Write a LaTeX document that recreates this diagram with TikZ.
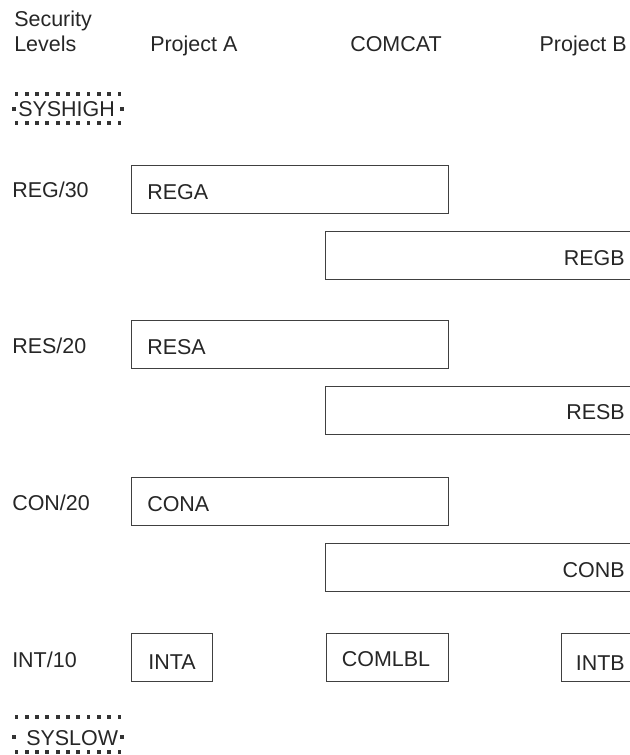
\documentclass[tikz,border=0pt]{standalone}
\usepackage{fontspec}
\setmainfont{Liberation Sans}

\begin{document}
\begin{tikzpicture}[x=0.75pt,y=0.75pt,yscale=-1,xscale=1,
	every node/.style={font=\fontsize{16.1}{19}\selectfont, text=black!85, inner sep=0pt},
	lvlbox/.style={draw=black!75, line width=0.75pt, minimum height=36pt, anchor=north west},
	dotsq/.style={fill=black!80}]
		\useasboundingbox (0,0) rectangle (630,755);
		\clip (0,0) rectangle (630,755);
		
		%column heads
		\node [anchor=base west] (sec) at (14,27) {Security};
		\node [anchor=base west] (lev) at (14,52) {Levels};
		\node [anchor=base west] (prja) at (150,52) {Project A};
		\node [anchor=base west] (comcat) at (350,52) {COMCAT};
		\node [anchor=base east] (prjb) at (627,52) {Project B};
		
		%syshigh, dotted frame
		\node [anchor=base west] (syshigh) at (18,117) {SYSHIGH};
		\foreach \i in {0,...,10} {
			\fill [dotsq] ({14.5+10.3*\i},92) rectangle ++(3.8,3.8);
			\fill [dotsq] ({14.5+10.3*\i},121.5) rectangle ++(3.8,3.8);
		}
		\fill [dotsq] (12,107) rectangle ++(3.8,3.8);
		\fill [dotsq] (120,107) rectangle ++(3.8,3.8);
		
		%levels
		\node [anchor=base west] (reg) at (12,198) {REG/30};
		\node [anchor=base west] (res) at (12,353) {RES/20};
		\node [anchor=base west] (con) at (12,510) {CON/20};
		\node [anchor=base west] (int) at (12,667) {INT/10};
		
		%project A / project B boxes
		\node [lvlbox, minimum width=237.75pt] (rega) at (131,165) {};
		\node [lvlbox, minimum width=236.25pt] (regb) at (325,231) {};
		\node [lvlbox, minimum width=237.75pt] (resa) at (131,320) {};
		\node [lvlbox, minimum width=236.25pt] (resb) at (325,386) {};
		\node [lvlbox, minimum width=237.75pt] (cona) at (131,477) {};
		\node [lvlbox, minimum width=236.25pt] (conb) at (325,543) {};
		\node [lvlbox, minimum width=60.75pt] (inta) at (131,633) {};
		\node [lvlbox, minimum width=91.5pt] (comlbl) at (326,633) {};
		\node [lvlbox, minimum width=59.25pt] (intb) at (561,633) {};
		
		\node [anchor=base west] (regat) at (147,200) {REGA};
		\node [anchor=base east] (regbt) at (625,266) {REGB};
		\node [anchor=base west] (resat) at (147,354) {RESA};
		\node [anchor=base east] (resbt) at (625,419) {RESB};
		\node [anchor=base west] (conat) at (147,511) {CONA};
		\node [anchor=base east] (conbt) at (625,577) {CONB};
		\node [anchor=base] (intat) at (172,669) {INTA};
		\node [anchor=base] (comlblt) at (386,666) {COMLBL};
		\node [anchor=base east] (intbt) at (625,670) {INTB};
		
		%syslow, dotted frame
		\node [anchor=base west] (syslow) at (26,745) {SYSLOW};
		\foreach \i in {0,...,10} {
			\fill [dotsq] ({14.5+10.3*\i},715) rectangle ++(3.8,3.8);
			\fill [dotsq] ({14.5+10.3*\i},750) rectangle ++(3.8,3.8);
		}
		\fill [dotsq] (12,735) rectangle ++(3.8,3.8);
		\fill [dotsq] (120,735) rectangle ++(3.8,3.8);
		
		\end{tikzpicture}
\end{document}
